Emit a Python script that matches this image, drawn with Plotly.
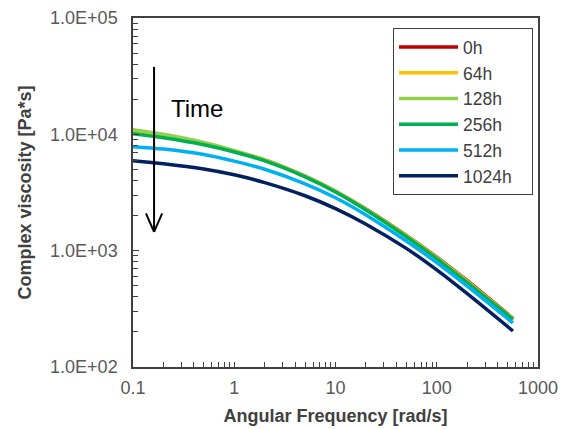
import plotly.graph_objects as go

# Data
freq = [0.1, 0.2, 0.5, 1, 2, 5, 10, 20, 50, 100, 200, 566]
series_names = ["0h", "64h", "128h", "256h", "512h", "1024h"]
eta_0h = [10471, 9661, 8318, 7161, 6026, 4365, 3236, 2280, 1352, 881, 552, 262]
eta_64h = [10715, 9817, 8414, 7194, 6026, 4365, 3236, 2270, 1343, 871, 545, 260]
eta_128h = [10965, 10000, 8511, 7244, 6026, 4365, 3236, 2265, 1334, 861, 537, 259]
eta_256h = [10116, 9333, 8128, 7047, 5916, 4315, 3199, 2239, 1318, 851, 531, 256]
eta_512h = [7834, 7464, 6714, 5888, 5012, 3758, 2851, 2028, 1211, 789, 495, 239]
eta_1024h = [5943, 5598, 5035, 4487, 3846, 2965, 2301, 1690, 1047, 684, 427, 204]
colors = ["#C00000", "#FFC000", "#92D050", "#00B050", "#00B0F0", "#002060"]

y_tickvals = [100, 1000, 10000, 100000]
y_ticktext = ["1.0E+02", "1.0E+03", "1.0E+04", "1.0E+05"]
x_tickvals = [0.1, 1, 10, 100, 1000]
x_ticktext = ["0.1", "1", "10", "100", "1000"]

all_eta = [eta_0h, eta_64h, eta_128h, eta_256h, eta_512h, eta_1024h]

FONT = "Arial, Liberation Sans, sans-serif"

fig = go.Figure()
for name, vals, col in zip(series_names, all_eta, colors):
    fig.add_trace(go.Scatter(x=freq, y=vals, name=name + "\u00a0\u00a0\u00a0", mode="lines",
                             legendgroup=name,
                             line=dict(color=col, width=3.5, shape="spline", smoothing=0.8)))

axcol = "#404040"
fig.update_xaxes(type="log", range=[-1, 3], tickvals=x_tickvals, ticktext=x_ticktext,
                 automargin=False,
                 showline=True, linecolor=axcol, linewidth=1.5, mirror=True,
                 ticks="inside", ticklen=5, tickcolor=axcol, showgrid=False, zeroline=False,
                 minor=dict(ticks="inside", ticklen=5, tickcolor=axcol, dtick="D1", showgrid=False),
                 ticklabelstandoff=4,
                 tickfont=dict(family=FONT, size=18, color="#595959"),
                 title=dict(text="<b>Angular Frequency [rad/s]</b>",
                            font=dict(family=FONT, size=18, color="#404040"),
                            standoff=12))
fig.update_yaxes(type="log", range=[2, 5], tickvals=y_tickvals, ticktext=y_ticktext,
                 automargin=False,
                 showline=True, linecolor=axcol, linewidth=1.5, mirror=True,
                 ticks="inside", ticklen=6, tickcolor=axcol, showgrid=False, zeroline=False,
                 minor=dict(ticks="inside", ticklen=5, tickcolor=axcol, dtick="D1", showgrid=False),
                 ticklabelstandoff=10,
                 tickfont=dict(family=FONT, size=18, color="#595959"),
                 title=dict(text="<b>Complex viscosity [Pa*s]</b>",
                            font=dict(family=FONT, size=18, color="#404040"),
                            standoff=14))

# Arrow "Time" (paper coordinates)
ax_x = 0.052
fig.add_shape(type="line", xref="paper", yref="paper", x0=ax_x, x1=ax_x, y0=0.86, y1=0.387,
              line=dict(color="#000000", width=2))
fig.add_shape(type="line", xref="paper", yref="paper", x0=ax_x - 0.02, x1=ax_x, y0=0.44, y1=0.387,
              line=dict(color="#000000", width=2))
fig.add_shape(type="line", xref="paper", yref="paper", x0=ax_x + 0.02, x1=ax_x, y0=0.44, y1=0.387,
              line=dict(color="#000000", width=2))
fig.add_annotation(text="Time", xref="paper", yref="paper", x=0.088, y=0.742,
                   xanchor="left", yanchor="middle", showarrow=False,
                   font=dict(family=FONT, size=24, color="#000000"))

fig.update_layout(
    width=563, height=429,
    margin=dict(l=133, r=25, t=18, b=62, autoexpand=False),
    paper_bgcolor="white", plot_bgcolor="white",
    legend=dict(x=0.642, y=0.971, xanchor="left", yanchor="top",
                bordercolor="#404040", borderwidth=1, bgcolor="white",
                font=dict(family=FONT, size=17.5, color="#404040"),
                tracegroupgap=0, itemwidth=59, traceorder="grouped"),
    showlegend=True,
)

fig.write_html("out.html")
